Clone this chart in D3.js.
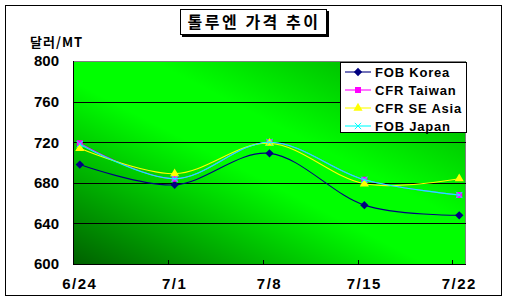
<!DOCTYPE html>
<html>
<head>
<meta charset="utf-8">
<script src="https://cdn.jsdelivr.net/npm/d3@7"></script>
<style>
    body { margin: 0; background: #fff; }
    text { font-family: "Liberation Sans", Arial, sans-serif; font-weight: bold; }
    .kr { font-family: "Noto Sans CJK KR", sans-serif; }
</style>
</head>
<body>
<div id="chart"></div>
<script>
// weekly toluene prices, USD per metric ton
const dates = ["2005-06-24", "2005-07-01", "2005-07-08", "2005-07-15", "2005-07-22"];
const dateLabels = ["6/24", "7/1", "7/8", "7/15", "7/22"];
const fobKorea = [698, 678, 709, 658, 648];
const cfrTaiwan = [719, 684, 720, 683, 668];
const cfrSeAsia = [714, 689, 719, 679, 684];
const fobJapan = [718, 684, 720, 683, 668];
const yTicks = [600, 640, 680, 720, 760, 800];

const seriesNames = ["FOB Korea", "CFR Taiwan", "CFR SE Asia", "FOB Japan"];
const seriesColors = ["#000080", "#ff00ff", "#ffff00", "#00ffff"];

class PriceVis {

    constructor(_parentElement) {
        this.parentElement = _parentElement;
        this.initVis();
    }

    initVis() {
        let vis = this;

        vis.margin = { top: 61, right: 42, bottom: 41, left: 73 };
        vis.width = 466 - vis.margin.left;
        vis.height = 264 - vis.margin.top;

        vis.root = d3.select("#" + vis.parentElement).append("svg")
            .attr("width", 508)
            .attr("height", 305);

        // outer chart border
        vis.root.append("rect")
            .attr("x", 5.5).attr("y", 5.5)
            .attr("width", 496).attr("height", 290)
            .attr("fill", "#fff")
            .attr("stroke", "#000");

        let grad = vis.root.append("defs").append("linearGradient")
            .attr("id", "bg")
            .attr("x1", 0).attr("y1", 1).attr("x2", 1).attr("y2", 0);
        grad.append("stop").attr("offset", 0).attr("stop-color", "#006000");
        grad.append("stop").attr("offset", 0.45).attr("stop-color", "#00ff00");
        grad.append("stop").attr("offset", 0.6).attr("stop-color", "#00ff00");
        grad.append("stop").attr("offset", 1).attr("stop-color", "#009c00");

        vis.svg = vis.root.append("g")
            .attr("transform", "translate(" + vis.margin.left + "," + vis.margin.top + ")");

        vis.svg.append("rect")
            .attr("width", vis.width)
            .attr("height", vis.height)
            .attr("fill", "url(#bg)");

        vis.svg.append("path")
            .attr("d", "M0,0.5H" + (vis.width - 0.5) + "V" + vis.height)
            .attr("fill", "none")
            .attr("stroke", "#808080");

        let parse = d3.utcParse("%Y-%m-%d");
        vis.dates = dates.map(parse);
        let start = vis.dates[0];
        let end = d3.utcDay.offset(vis.dates[vis.dates.length - 1], 1);

        vis.x = d3.scaleUtc()
            .domain([start, end])
            .range([0, vis.width]);

        vis.y = d3.scaleLinear()
            .domain([600, 800])
            .range([vis.height, 0]);

        // grid lines
        vis.svg.append("g")
            .selectAll("line")
            .data(yTicks.slice(1, -1))
            .join("line")
            .attr("x1", 0).attr("x2", vis.width)
            .attr("y1", d => Math.round(vis.y(d)) + 0.5)
            .attr("y2", d => Math.round(vis.y(d)) + 0.5)
            .attr("stroke", "#000");

        // x axis: week boundaries as inside ticks, labels at the points
        let xAxis = d3.axisBottom(vis.x)
            .tickValues(vis.dates)
            .tickSize(0)
            .tickPadding(14)
            .tickFormat((d, i) => dateLabels[i]);

        let gx = vis.svg.append("g")
            .attr("class", "x-axis")
            .attr("transform", "translate(0," + vis.height + ")");
        gx.call(xAxis);
        gx.selectAll(".tick")
            .attr("transform", d => "translate(" + vis.x(d3.utcHour.offset(d, 12)) + ",0)");
        gx.select(".domain").remove();
        gx.selectAll("text").attr("font-size", 15).attr("letter-spacing", 1.5).attr("fill", "#000");

        gx.selectAll(".wk")
            .data(vis.dates)
            .join("line")
            .attr("class", "wk")
            .attr("x1", d => Math.round(vis.x(d)) + 0.5)
            .attr("x2", d => Math.round(vis.x(d)) + 0.5)
            .attr("y1", 0).attr("y2", -4)
            .attr("stroke", "#000");

        gx.append("line")
            .attr("x1", 0).attr("x2", vis.width)
            .attr("y1", 0.5).attr("y2", 0.5)
            .attr("stroke", "#000");

        let yAxis = d3.axisLeft(vis.y)
            .tickValues(yTicks)
            .tickSize(0)
            .tickPadding(14);

        let gy = vis.svg.append("g").attr("class", "y-axis").call(yAxis);
        gy.select(".domain").remove();
        gy.selectAll("text").attr("font-size", 15).attr("fill", "#000");
        gy.append("line")
            .attr("x1", 0.5).attr("x2", 0.5)
            .attr("y1", 0).attr("y2", vis.height + 1)
            .attr("stroke", "#000");

        // titles
        vis.root.append("rect")
            .attr("x", 182).attr("y", 11)
            .attr("width", 147).attr("height", 26)
            .attr("fill", "#000");
        vis.root.append("rect")
            .attr("x", 180.5).attr("y", 9.5)
            .attr("width", 146).attr("height", 25)
            .attr("fill", "#fff")
            .attr("stroke", "#000");
        vis.root.append("text")
            .attr("class", "kr")
            .attr("x", 254).attr("y", 28)
            .attr("text-anchor", "middle")
            .attr("font-size", 16)
            .attr("letter-spacing", 2.5)
            .text("톨루엔 가격 추이");

        vis.root.append("text")
            .attr("class", "kr")
            .attr("x", 30).attr("y", 47)
            .attr("font-size", 13)
            .attr("font-weight", "normal")
            .attr("letter-spacing", 1)
            .text("달러/MT");

        vis.wrangleData();
    }

    wrangleData() {
        let vis = this;

        vis.displayData = [fobKorea, cfrTaiwan, cfrSeAsia, fobJapan].map(function(values, i) {
            return {
                name: seriesNames[i],
                color: seriesColors[i],
                symbol: [d3.symbolDiamond2, d3.symbolSquare, d3.symbolTriangle, d3.symbolX][i],
                values: values.map((v, j) => ({ date: d3.utcHour.offset(vis.dates[j], 12), value: v }))
            };
        });

        vis.updateVis();
    }

    markSize(symbol) {
        if (symbol === d3.symbolX) return 28;
        if (symbol === d3.symbolDiamond2) return 44;
        return 36;
    }

    updateVis() {
        let vis = this;

        let line = d3.line()
            .curve(d3.curveCardinal.tension(0))
            .x(d => vis.x(d.date))
            .y(d => vis.y(d.value));

        let series = vis.svg.selectAll(".series")
            .data(vis.displayData)
            .join("g")
            .attr("class", "series");

        series.append("path")
            .attr("d", d => line(d.values))
            .attr("fill", "none")
            .attr("stroke", d => d.color)
            .attr("stroke-width", 1.1);

        series.each(function(s) {
            let sym = d3.symbol().type(s.symbol).size(vis.markSize(s.symbol));
            d3.select(this).selectAll(".mark")
                .data(s.values)
                .join("path")
                .attr("class", "mark")
                .attr("transform", d => "translate(" + vis.x(d.date) + "," + vis.y(d.value) + ")")
                .attr("d", sym)
                .attr("fill", s.symbol === d3.symbolX ? "none" : s.color)
                .attr("stroke", s.symbol === d3.symbolX ? s.color : "none")
                .attr("stroke-width", 1);
        });

        // legend
        let legend = vis.root.append("g").attr("transform", "translate(340,62)");
        legend.append("rect")
            .attr("x", 0.5).attr("y", 0.5)
            .attr("width", 126).attr("height", 70)
            .attr("fill", "#fff")
            .attr("stroke", "#000");

        let items = legend.selectAll(".item")
            .data(vis.displayData)
            .join("g")
            .attr("class", "item")
            .attr("transform", (d, i) => "translate(0," + (10 + i * 18) + ")");

        items.append("line")
            .attr("x1", 5).attr("x2", 31)
            .attr("stroke", d => d.color)
            .attr("stroke-width", 1.1);

        items.append("path")
            .attr("transform", "translate(18,0)")
            .attr("d", d => d3.symbol().type(d.symbol).size(vis.markSize(d.symbol))())
            .attr("fill", d => d.symbol === d3.symbolX ? "none" : d.color)
            .attr("stroke", d => d.symbol === d3.symbolX ? d.color : "none");

        items.append("text")
            .attr("x", 35).attr("y", 5)
            .attr("font-size", 13)
            .attr("letter-spacing", 0.8)
            .text(d => d.name);
    }
}

new PriceVis("chart");
</script>
</body>
</html>
